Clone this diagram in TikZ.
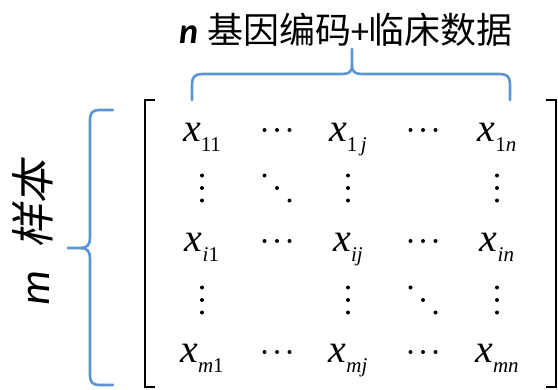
\documentclass[tikz,border=0pt]{standalone}
\usepackage{fontspec}
\setmainfont{Liberation Serif}
\newfontfamily\cjkfont{Noto Sans CJK SC}
\newfontfamily\cjkslant[FakeSlant=0.2]{Noto Sans CJK SC}
\newfontfamily\labfont{Carlito}
\newcommand\xe[1]{{\fontsize{40}{40}\selectfont\itshape x}\raisebox{-10pt}{\fontsize{21}{21}\selectfont\itshape #1}}
\definecolor{braceblue}{RGB}{91,150,210}
\tikzset{
  ent/.style={anchor=base,inner sep=0pt},
  brace/.style={draw=braceblue,line width=2.6pt,line join=round,line cap=round},
  bracket/.style={draw=black,line width=1.8pt},
  cdotsp/.pic={\foreach \i in {-1,0,1} \fill (\i*12.5,0) circle (2pt);},
  vdotsp/.pic={\foreach \i in {-1,0,1} \fill (0,\i*12.5) circle (2pt);},
  ddotsp/.pic={\foreach \i in {-1,0,1} \fill (\i*12.5,\i*12.5) circle (2pt);},
}
\begin{document}
\begin{tikzpicture}[x=1pt,y=-1pt]
\useasboundingbox (0,0) rectangle (558,389);
% brackets
\draw[bracket] (155,100) -- (145,100) -- (145,387) -- (155,387);
\draw[bracket] (546,100) -- (556,100) -- (556,387) -- (546,387);
% entries (baselines)
\node[ent] (a11) at (202,141) {\xe{\textup{11}}};
\node[ent] (a1j) at (348,141) {\xe{\textup{1}\,j}};
\node[ent] (a1n) at (497,141) {\xe{\textup{1}n}};
\node[ent] (ai1) at (202,251) {\xe{i\textup{1}}};
\node[ent] (aij) at (348,251) {\xe{ij}};
\node[ent] (ain) at (497,251) {\xe{in}};
\node[ent] (am1) at (202,362) {\xe{m\textup{1}}};
\node[ent] (amj) at (348,362) {\xe{mj}};
\node[ent] (amn) at (497,362) {\xe{mn}};
% dots
\pic at (277,130) {cdotsp};
\pic at (423,130) {cdotsp};
\pic at (277,241) {cdotsp};
\pic at (423,241) {cdotsp};
\pic at (277,352) {cdotsp};
\pic at (423,352) {cdotsp};
\pic at (202,188) {vdotsp};
\pic at (277,188) {ddotsp};
\pic at (348,188) {vdotsp};
\pic at (497,188) {vdotsp};
\pic at (202,300) {vdotsp};
\pic at (348,300) {vdotsp};
\pic at (423,300) {ddotsp};
\pic at (497,300) {vdotsp};
% top brace
\draw[brace] (192,100) -- (192,84) .. controls (192,77) and (195,74) .. (202,74)
  -- (342,74) .. controls (349,74) and (352,72) .. (352,65) -- (352,49);
\draw[brace] (352,65) .. controls (352,72) and (355,74) .. (362,74)
  -- (500,74) .. controls (507,74) and (510,77) .. (510,84) -- (510,100);
% left brace
\draw[brace] (113,110) -- (99,110) .. controls (93,110) and (90,113) .. (90,119)
  -- (90,238) .. controls (90,245) and (87,248) .. (80,248) -- (68,248);
\draw[brace] (80,248) .. controls (87,248) and (90,251) .. (90,258)
  -- (90,376) .. controls (90,382) and (93,385) .. (99,385) -- (113,385);
% labels
\node[inner sep=0pt] (toplabel) at (346,30) {\fontsize{36}{40}\selectfont{\labfont\bfseries\itshape n}\ \cjkfont 基因编码{\labfont +}临床数据};
\node[inner sep=0pt,rotate=90] (leftlabel) at (33,233) {\fontsize{44}{48}\selectfont{\labfont\itshape m}\ \ {\cjkslant 样本}};
\end{tikzpicture}
\end{document}
